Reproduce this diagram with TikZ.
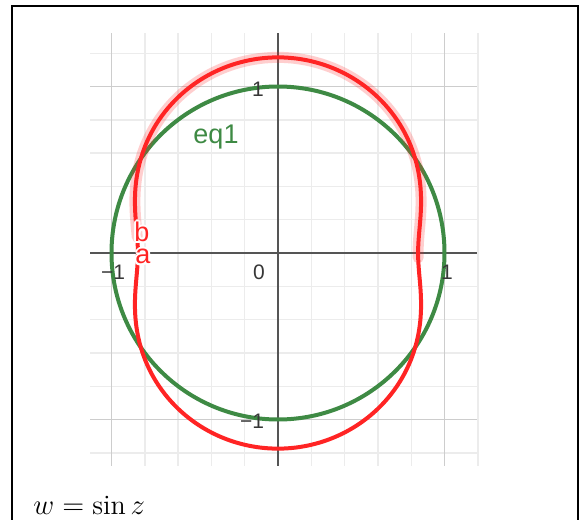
\documentclass[tikz,border=0pt]{standalone}
\usepackage{fontspec}
\newfontfamily\labfont{Liberation Sans}
\definecolor{gcurve}{RGB}{62,138,68}
\definecolor{rcurve}{RGB}{255,36,36}
\definecolor{axisc}{RGB}{85,85,85}
\definecolor{majorc}{RGB}{205,205,205}
\definecolor{minorc}{RGB}{236,236,236}
\definecolor{tickc}{RGB}{55,55,55}
\tikzset{
  frameline/.style={line width=0.8pt, black},
  minorgrid/.style={draw=minorc, line width=0.7pt},
  majorgrid/.style={draw=majorc, line width=0.9pt},
  axisline/.style={draw=axisc, line width=0.8pt},
  ticklab/.style={font=\labfont\fontsize{10.5}{12}\selectfont, text=tickc, inner sep=0pt},
  eqlab/.style={font=\labfont\fontsize{13.5}{15}\selectfont, text=gcurve, inner sep=0pt},
  ptlab/.style={font=\labfont\fontsize{13.5}{15}\selectfont, text=rcurve, inner sep=0pt},
  halolab/.style={font=\labfont\fontsize{13.5}{15}\selectfont, text=white, inner sep=0pt},
  greencurve/.style={draw=gcurve, line width=2pt},
  redcurve/.style={draw=rcurve, line width=2pt},
  pinkband/.style={draw=rcurve, draw opacity=0.22, line width=5.5pt, line cap=round},
}
\begin{document}
\begin{tikzpicture}[x=0.5pt,y=-0.5pt]
\useasboundingbox (0,0) rectangle (579,520);
\fill[white] (0,0) rectangle (579,520);
\draw[frameline] (12,521) -- (12,6) -- (578,6) -- (578,521);
\begin{scope}[shift={(139pt,-126.5pt)}, x=83.25pt, y=83.25pt]
  % minor grid
  \foreach \v in {-0.8,-0.6,-0.4,-0.2,0.2,0.4,0.6,0.8,1.2} {
    \draw[minorgrid] (\v,-1.279) -- (\v,1.321);
  }
  \foreach \v in {-1.2,-0.8,-0.6,-0.4,-0.2,0.2,0.4,0.6,0.8,1.2} {
    \draw[minorgrid] (-1.129,\v) -- (1.195,\v);
  }
  % major grid
  \foreach \v in {-1,1} {
    \draw[majorgrid] (\v,-1.279) -- (\v,1.321);
    \draw[majorgrid] (-1.129,\v) -- (1.195,\v);
  }
  % axes
  \draw[axisline] (0,-1.279) -- (0,1.321);
  \draw[axisline] (-1.129,0) -- (1.195,0);
  % green unit circle
  \draw[greencurve] (0,0) circle[radius=1];
  % pink highlight
  \draw[pinkband] plot[domain=-3:170, samples=120, smooth, variable=\t]
    ({sin(deg(cos(\t)))*cosh(sin(\t))}, {cos(deg(cos(\t)))*sinh(sin(\t))});
  % red curve
  \draw[redcurve] plot[domain=0:360, samples=240, smooth cycle, variable=\t]
    ({sin(deg(cos(\t)))*cosh(sin(\t))}, {cos(deg(cos(\t)))*sinh(sin(\t))});
\end{scope}
% tick labels
\node[ticklab] (ty1) at (258,89) {1};
\node[ticklab] (t0) at (259,272) {0};
\node[ticklab] (txm1) at (113,272) {−1};
\node[ticklab] (tx1) at (447,272) {1};
\node[ticklab] (tym1) at (252,421) {−1};
% eq1 label
\node[eqlab] (eq) at (216,137) {eq1};
% a and b labels with white halo
\foreach \dx/\dy in {1/0,-1/0,0/1,0/-1,0.7/0.7,0.7/-0.7,-0.7/0.7,-0.7/-0.7} {
  \node[halolab, xshift=\dx pt, yshift=\dy pt] at (142,232) {b};
  \node[halolab, xshift=\dx pt, yshift=\dy pt] at (143,256.5) {a};
}
\node[ptlab] (lb) at (142,232) {b};
\node[ptlab] (la) at (143,256.5) {a};
% caption
\node[anchor=base west, inner sep=0pt, font=\fontsize{14}{16}\selectfont] (cap) at (33,514) {$w=\sin z$};
\end{tikzpicture}
\end{document}
